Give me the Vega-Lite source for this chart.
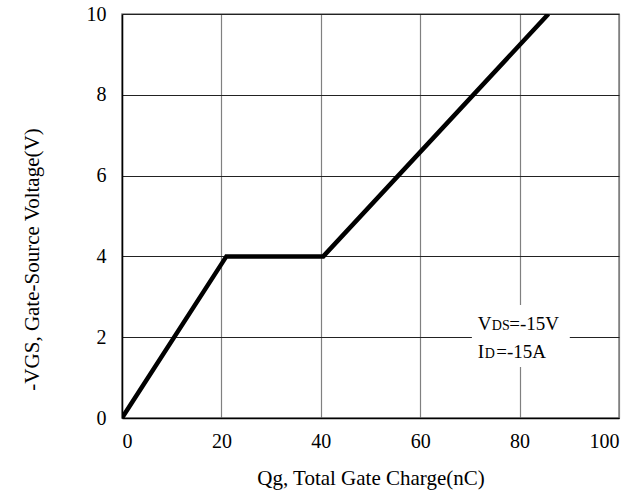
{
  "$schema": "https://vega.github.io/schema/vega-lite/v6.json",
  "width": 497,
  "height": 404,
  "autosize": "none",
  "padding": {"left": 122, "top": 14, "right": 16, "bottom": 76},
  "background": "white",
  "config": {
    "font": "Liberation Serif",
    "view": {"stroke": "#808080", "strokeWidth": 1.5},
    "axis": {
      "labelFont": "Liberation Serif",
      "titleFont": "Liberation Serif",
      "labelFontSize": 20,
      "titleFontSize": 21,
      "titleFontWeight": "normal",
      "labelFontWeight": "normal",
      "labelColor": "#000",
      "titleColor": "#000",
      "ticks": false,
      "domainColor": "#000",
      "domainWidth": 1.5
    }
  },
  "datasets": {
    "curve": [
      {"qg": 0, "vgs": 0},
      {"qg": 21, "vgs": 4},
      {"qg": 40.5, "vgs": 4},
      {"qg": 85.8, "vgs": 10}
    ],
    "box": [
      {"x1": 70.4, "x2": 90.1, "y1": 1.26, "y2": 2.8}
    ],
    "bigText": [
      {"t": "V", "x": 71.6, "y": 2.18},
      {"t": "=-15V", "x": 77.9, "y": 2.18},
      {"t": "I", "x": 71.6, "y": 1.49},
      {"t": "=-15A", "x": 75.3, "y": 1.49}
    ],
    "smallText": [
      {"t": "DS", "x": 74.4, "y": 2.18},
      {"t": "D", "x": 73.0, "y": 1.49}
    ]
  },
  "layer": [
    {
      "data": {"name": "curve"},
      "mark": {"type": "line", "color": "#000", "strokeWidth": 4.5, "strokeJoin": "miter", "clip": true},
      "encoding": {
        "x": {
          "field": "qg", "type": "quantitative",
          "scale": {"domain": [0, 100], "nice": false, "zero": true},
          "axis": {
            "values": [0, 20, 40, 60, 80, 100],
            "title": "Qg, Total Gate Charge(nC)",
            "labelFont": "Liberation Serif",
            "titleFont": "Liberation Serif",
            "labelPadding": 13,
            "titlePadding": 16,
            "grid": true,
            "gridColor": "#808080",
            "gridWidth": 1.2
          }
        },
        "y": {
          "field": "vgs", "type": "quantitative",
          "scale": {"domain": [0, 10], "nice": false},
          "axis": {
            "values": [0, 2, 4, 6, 8, 10],
            "title": "-VGS, Gate-Source Voltage(V)",
            "labelFont": "Liberation Serif",
            "titleFont": "Liberation Serif",
            "labelPadding": 16,
            "titlePadding": 44,
            "titleY": 245,
            "grid": true,
            "gridColor": "#222",
            "gridWidth": 1.2
          }
        }
      }
    },
    {
      "data": {"name": "box"},
      "mark": {"type": "rect", "color": "white"},
      "encoding": {
        "x": {"field": "x1", "type": "quantitative"},
        "x2": {"field": "x2"},
        "y": {"field": "y1", "type": "quantitative"},
        "y2": {"field": "y2"}
      }
    },
    {
      "data": {"name": "bigText"},
      "mark": {"type": "text", "align": "left", "baseline": "alphabetic", "fontSize": 19, "color": "#000", "font": "Liberation Serif"},
      "encoding": {
        "x": {"field": "x", "type": "quantitative"},
        "y": {"field": "y", "type": "quantitative"},
        "text": {"field": "t"}
      }
    },
    {
      "data": {"name": "smallText"},
      "mark": {"type": "text", "align": "left", "baseline": "alphabetic", "fontSize": 14, "color": "#000", "font": "Liberation Serif"},
      "encoding": {
        "x": {"field": "x", "type": "quantitative"},
        "y": {"field": "y", "type": "quantitative"},
        "text": {"field": "t"}
      }
    }
  ]
}
